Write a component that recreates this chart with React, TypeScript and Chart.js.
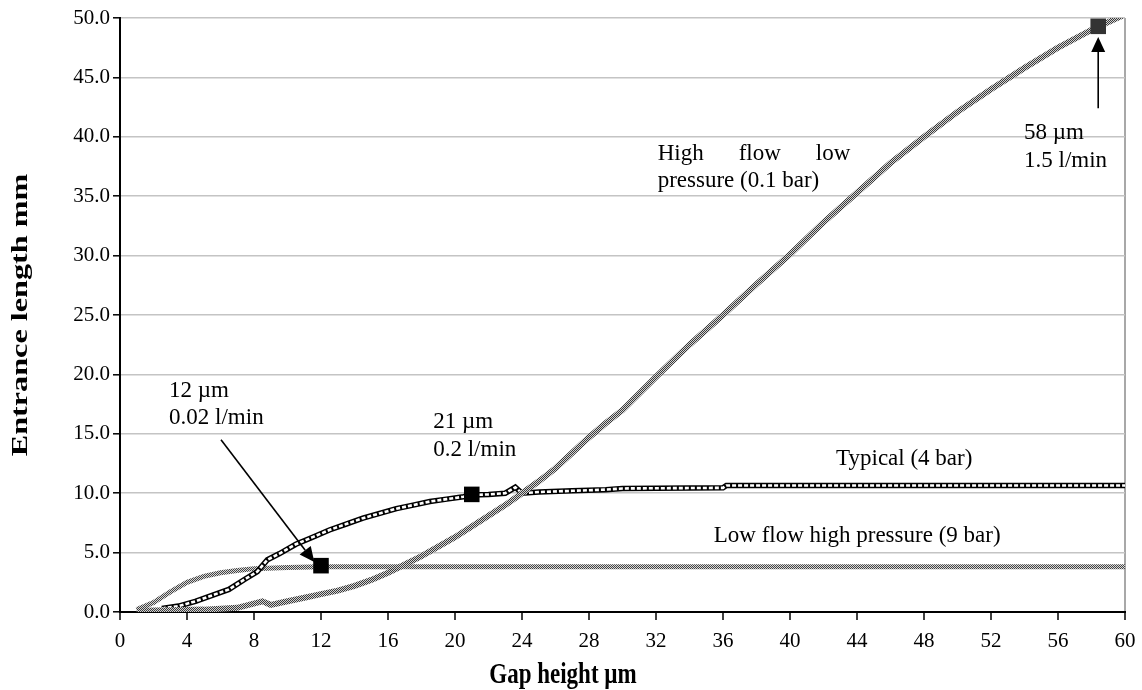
import React, { useEffect, useRef } from "react";
import { Chart, registerables } from "chart.js";

Chart.register(...registerables);

// ---------------- data ----------------
const xTickStep = 4;
const yTickStep = 5;

const highFlowX = [1.0, 3, 5, 7, 8.5, 9, 10, 11, 12, 13, 14, 15, 16, 17, 18, 19, 20, 21, 22, 23, 24, 25, 26, 27, 28, 29, 30, 32, 34, 36, 38, 40, 42, 44, 46, 48, 50, 52, 54, 56, 58, 60];
const highFlowY = [0.1, 0.15, 0.2, 0.35, 0.9, 0.6, 0.9, 1.2, 1.5, 1.8, 2.2, 2.7, 3.3, 4.0, 4.7, 5.5, 6.3, 7.2, 8.1, 9.0, 10.0, 11.0, 12.1, 13.4, 14.7, 15.9, 17.0, 19.8, 22.5, 25.0, 27.6, 30.1, 32.8, 35.3, 37.8, 40.0, 42.1, 44.0, 45.8, 47.5, 49.0, 50.3];

const typicalX = [2.5, 3.5, 4.5, 5.5, 6.5, 7.5, 8.2, 8.8, 9.5, 10.5, 11.5, 12.5, 13.5, 14.5, 15.5, 16.5, 17.5, 18.5, 19.5, 20.5, 21, 22, 23, 23.6, 24, 25, 27, 29, 30, 36, 36.2, 60];
const typicalY = [0.3, 0.5, 0.9, 1.4, 1.9, 2.8, 3.4, 4.4, 4.9, 5.7, 6.3, 6.9, 7.4, 7.9, 8.3, 8.7, 9.0, 9.3, 9.5, 9.7, 9.85, 9.9, 10.0, 10.5, 10.0, 10.1, 10.2, 10.3, 10.4, 10.45, 10.65, 10.65];

const lowFlowX = [1.0, 2.0, 3.0, 4.0, 5.0, 6.0, 7.0, 8.0, 10, 12, 60];
const lowFlowY = [0.2, 0.8, 1.7, 2.5, 3.0, 3.3, 3.5, 3.65, 3.75, 3.8, 3.8];

const markerX = [12, 21, 58.4];
const markerY = [3.9, 9.9, 49.3];

const seriesNames = ["High flow low pressure (0.1 bar)", "Typical (4 bar)", "Low flow high pressure (9 bar)"];

// ---------------- annotation layout ----------------
const FONT = '"Liberation Serif", "Times New Roman", serif';
const notes = [
  { text: "12 \u00b5m", x: 2.93, y: 18.1 },
  { text: "0.02 l/min", x: 2.93, y: 15.8 },
  { text: "21 \u00b5m", x: 18.7, y: 15.45 },
  { text: "0.2 l/min", x: 18.7, y: 13.1 },
  { text: "Typical (4 bar)", x: 42.75, y: 12.35 },
  { text: "Low flow high pressure (9 bar)", x: 35.45, y: 5.9 },
  { text: "58 \u00b5m", x: 53.97, y: 39.85 },
  { text: "1.5 l/min", x: 53.97, y: 37.45 },
  { text: "pressure (0.1 bar)", x: 32.1, y: 35.75 },
];
const justified = { words: ["High", "flow", "low"], x1: 32.1, x2: 43.6, y: 38.05 };
const arrows = [
  { x1: 6.03, y1: 14.5, x2: 11.6, y2: 4.2 },
  { x1: 58.4, y1: 42.4, x2: 58.4, y2: 48.4 },
];

const toPts = (xs: number[], ys: number[]) => xs.map((x, i) => ({ x, y: ys[i] }));

function makePattern(ctx: CanvasRenderingContext2D, dark: string, light: string) {
  const c = document.createElement("canvas");
  c.width = 2;
  c.height = 2;
  const g = c.getContext("2d")!;
  g.fillStyle = light;
  g.fillRect(0, 0, 2, 2);
  g.fillStyle = dark;
  g.fillRect(0, 0, 1, 1);
  g.fillRect(1, 1, 1, 1);
  return ctx.createPattern(c, "repeat")!;
}

function drawArrow(ctx: CanvasRenderingContext2D, x1: number, y1: number, x2: number, y2: number) {
  const ang = Math.atan2(y2 - y1, x2 - x1);
  const L = 15;
  const W = 7;
  const bx = x2 - L * Math.cos(ang);
  const by = y2 - L * Math.sin(ang);
  ctx.beginPath();
  ctx.moveTo(x1, y1);
  ctx.lineTo(bx, by);
  ctx.lineWidth = 1.6;
  ctx.strokeStyle = "#000";
  ctx.stroke();
  ctx.beginPath();
  ctx.moveTo(x2, y2);
  ctx.lineTo(bx + W * Math.sin(ang), by - W * Math.cos(ang));
  ctx.lineTo(bx - W * Math.sin(ang), by + W * Math.cos(ang));
  ctx.closePath();
  ctx.fillStyle = "#000";
  ctx.fill();
}

const annotPlugin = {
  id: "annots",
  afterDatasetsDraw(chart: any) {
    const { ctx } = chart;
    const xs = chart.scales.x;
    const ys = chart.scales.y;
    const px = (v: number) => xs.getPixelForValue(v);
    const py = (v: number) => ys.getPixelForValue(v);
    ctx.save();
    ctx.fillStyle = "#000";
    ctx.font = `23px ${FONT}`;
    ctx.textAlign = "left";
    ctx.textBaseline = "alphabetic";
    for (const n of notes) ctx.fillText(n.text, px(n.x), py(n.y));
    const widths = justified.words.map((w) => ctx.measureText(w).width);
    const left = px(justified.x1);
    const right = px(justified.x2);
    const gap = (right - left - widths.reduce((a, b) => a + b, 0)) / (justified.words.length - 1);
    let cx = left;
    justified.words.forEach((w, i) => {
      ctx.fillText(w, cx, py(justified.y));
      cx += widths[i] + gap;
    });
    for (const a of arrows) drawArrow(ctx, px(a.x1), py(a.y1), px(a.x2), py(a.y2));
    ctx.restore();
  },
  afterDraw(chart: any) {
    const { ctx, chartArea } = chart;
    ctx.save();
    ctx.fillStyle = "#000";
    ctx.font = `bold 23px ${FONT}`;
    ctx.textAlign = "center";
    ctx.textBaseline = "middle";
    ctx.save();
    ctx.translate(21, (chartArea.top + chartArea.bottom) / 2);
    ctx.rotate(-Math.PI / 2);
    ctx.scale(1.4, 1);
    ctx.fillText("Entrance length mm", 0, 0);
    ctx.restore();
    ctx.save();
    ctx.translate(563, 676);
    ctx.scale(1, 1.25);
    ctx.fillText("Gap height \u00b5m", 0, 0);
    ctx.restore();
    ctx.restore();
  },
};

export default function App() {
  const ref = useRef<HTMLCanvasElement>(null);

  useEffect(() => {
    const canvas = ref.current!;
    const ctx = canvas.getContext("2d")!;
    const pat = makePattern(ctx, "#3a3a3a", "#d4d4d4");
    const pat2 = makePattern(ctx, "#444444", "#d8d8d8");

    const chart = new Chart(canvas, {
      type: "scatter",
      data: {
        datasets: [
          {
            label: "markers",
            data: toPts(markerX, markerY),
            showLine: false,
            pointStyle: "rect",
            pointRadius: 11,
            pointBorderWidth: 0,
            pointBackgroundColor: ["#000", "#000", "#333"],
            pointBorderColor: ["#000", "#000", "#333"],
          },
          {
            label: seriesNames[0],
            data: toPts(highFlowX, highFlowY),
            showLine: true,
            borderColor: pat as any,
            borderWidth: 6,
            pointRadius: 0,
            tension: 0,
          },
          {
            label: seriesNames[1] + " inner",
            data: toPts(typicalX, typicalY),
            showLine: true,
            borderColor: "#ffffff",
            borderWidth: 2.6,
            borderDash: [4, 2],
            borderCapStyle: "butt",
            pointRadius: 0,
            tension: 0,
          },
          {
            label: seriesNames[1],
            data: toPts(typicalX, typicalY),
            showLine: true,
            borderColor: "#000",
            borderWidth: 5.5,
            pointRadius: 0,
            tension: 0,
          },
          {
            label: seriesNames[2],
            data: toPts(lowFlowX, lowFlowY),
            showLine: true,
            borderColor: pat2 as any,
            borderWidth: 5,
            pointRadius: 0,
            tension: 0,
          },
        ],
      },
      options: {
        animation: false,
        responsive: false,
        maintainAspectRatio: false,
        layout: { padding: { left: 0, top: 18, right: 17, bottom: 0 } },
        plugins: { legend: { display: false }, tooltip: { enabled: false }, title: { display: false } },
        scales: {
          x: {
            type: "linear",
            min: 0,
            max: 60,
            afterFit: (s: any) => {
              s.height = 78;
              s.paddingLeft = 0;
              s.paddingRight = 0;
            },
            ticks: {
              stepSize: xTickStep,
              color: "#000",
              font: { family: FONT, size: 21 },
              padding: 9,
              maxRotation: 0,
              autoSkip: false,
              callback: (v: any) => String(v),
            },
            grid: {
              color: (c: any) => (c.tick && c.tick.value === 60 ? "#a8a8a8" : "rgba(0,0,0,0)"),
              lineWidth: 2,
              tickColor: "#000",
              tickLength: 8,
              tickWidth: 1.5,
            },
            border: { color: "#000", width: 2 },
            title: { display: false },
          },
          y: {
            type: "linear",
            min: 0,
            max: 50,
            afterFit: (s: any) => {
              s.width = 120;
              s.paddingTop = 0;
              s.paddingBottom = 0;
            },
            ticks: {
              stepSize: yTickStep,
              color: "#000",
              font: { family: FONT, size: 21 },
              padding: 3,
              callback: (v: any) => Number(v).toFixed(1),
            },
            grid: {
              color: "#c4c4c4",
              lineWidth: 1.6,
              tickColor: "#000",
              tickLength: 7,
              tickWidth: 1.5,
            },
            border: { color: "#000", width: 2 },
            title: { display: false },
          },
        },
      },
      plugins: [annotPlugin],
    });
    return () => chart.destroy();
  }, []);

  return (
    <div style={{ position: "fixed", left: 0, top: 0, width: 1142, height: 690, background: "#fff" }}>
      <canvas ref={ref} width={1142} height={690} style={{ width: 1142, height: 690, display: "block" }} />
    </div>
  );
}
